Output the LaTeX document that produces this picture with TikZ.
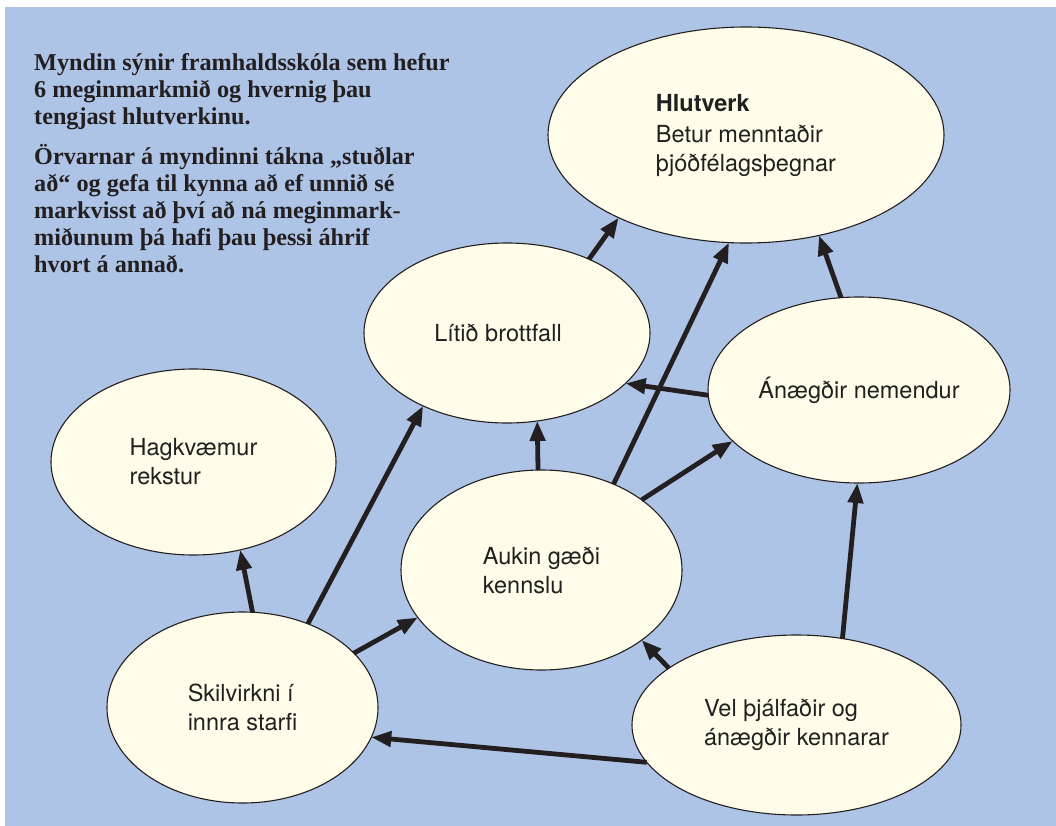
\documentclass[tikz,border=0pt]{standalone}
\usepackage{fontspec}
\setmainfont{Liberation Serif}
\setsansfont{TeX Gyre Heros}
\usetikzlibrary{shapes.geometric,arrows.meta}
\definecolor{panel}{HTML}{AEC4E6}
\definecolor{goal}{HTML}{FFFDE9}
\definecolor{ink}{HTML}{231F20}

\begin{document}
\begin{tikzpicture}[x=1pt,y=-1pt,
  goalnode/.style={ellipse, draw=ink, line width=1.1pt, fill=goal,
    inner sep=0pt, outer sep=0pt, align=left, text=ink,
    font=\sffamily\fontsize{23.5}{29}\selectfont},
  link/.style={draw=ink, line width=4.8pt,
    -{Triangle[length=20pt,width=15pt]}},
  note/.style={anchor=base west, inner sep=0pt, text=ink,
    font=\bfseries\fontsize{24.2}{26.8}\selectfont}]

\useasboundingbox (0,0) rectangle (1056,826);
\fill[white] (0,0) rectangle (1056,826);
\fill[panel] (5,7) rectangle (1056,826);

% explanatory text
\node[note] (intro) at (34,71) {\parbox[t]{470pt}{\raggedright
  Myndin sýnir framhaldsskóla sem hefur\\
  6 meginmarkmið og hvernig þau\\
  tengjast hlutverkinu.}};
\node[note] (legend) at (34,165) {\parbox[t]{470pt}{\raggedright
  Örvarnar á myndinni tákna „stuðlar\\
  að“ og gefa til kynna að ef unnið sé\\
  markvisst að því að ná meginmark-\\
  miðunum þá hafi þau þessi áhrif\\
  hvort á annað.}};

% goals
\node[goalnode, minimum width=396pt, minimum height=216pt] (mission) at (746,135)
  {\textbf{Hlutverk}\\[2pt] Betur menntaðir\\ þjóðfélagsþegnar};
\node[goalnode, minimum width=286pt, minimum height=180pt] (dropout) at (507,333)
  {Lítið brottfall\hspace*{18pt}};
\node[goalnode, minimum width=302pt, minimum height=186pt] (students) at (859,390)
  {Ánægðir nemendur};
\node[goalnode, minimum width=285pt, minimum height=186pt] (budget) at (193.5,462)
  {Hagkvæmur\\ rekstur};
\node[goalnode, minimum width=281pt, minimum height=200pt] (teaching) at (541.5,570)
  {Aukin gæði\\ kennslu};
\node[goalnode, minimum width=271pt, minimum height=191pt] (efficiency) at (242.5,707.5)
  {Skilvirkni í\\ innra starfi};
\node[goalnode, minimum width=329pt, minimum height=180pt] (teachers) at (796.5,725)
  {Vel þjálfaðir og\\ ánægðir kennarar};

% influences
\draw[link] (dropout.42) -- (mission.-147);
\draw[link] (teaching.50) -- (mission.-99);
\draw[link] (students.101) -- (mission.-54);
\draw[link] (students.-178) -- (dropout.-23);
\draw[link] (teaching.92) -- (dropout.-71);
\draw[link] (efficiency.84) -- (budget.-62);
\draw[link] (efficiency.52) -- (dropout.-139);
\draw[link] (efficiency.26) -- (teaching.-159);
\draw[link] (teaching.35) -- (students.-158);
\draw[link] (teachers.62) -- (students.-91);
\draw[link] (teachers.156) -- (teaching.-35);
\draw[link] (teachers.-166) -- (efficiency.-13);
\end{tikzpicture}
\end{document}
